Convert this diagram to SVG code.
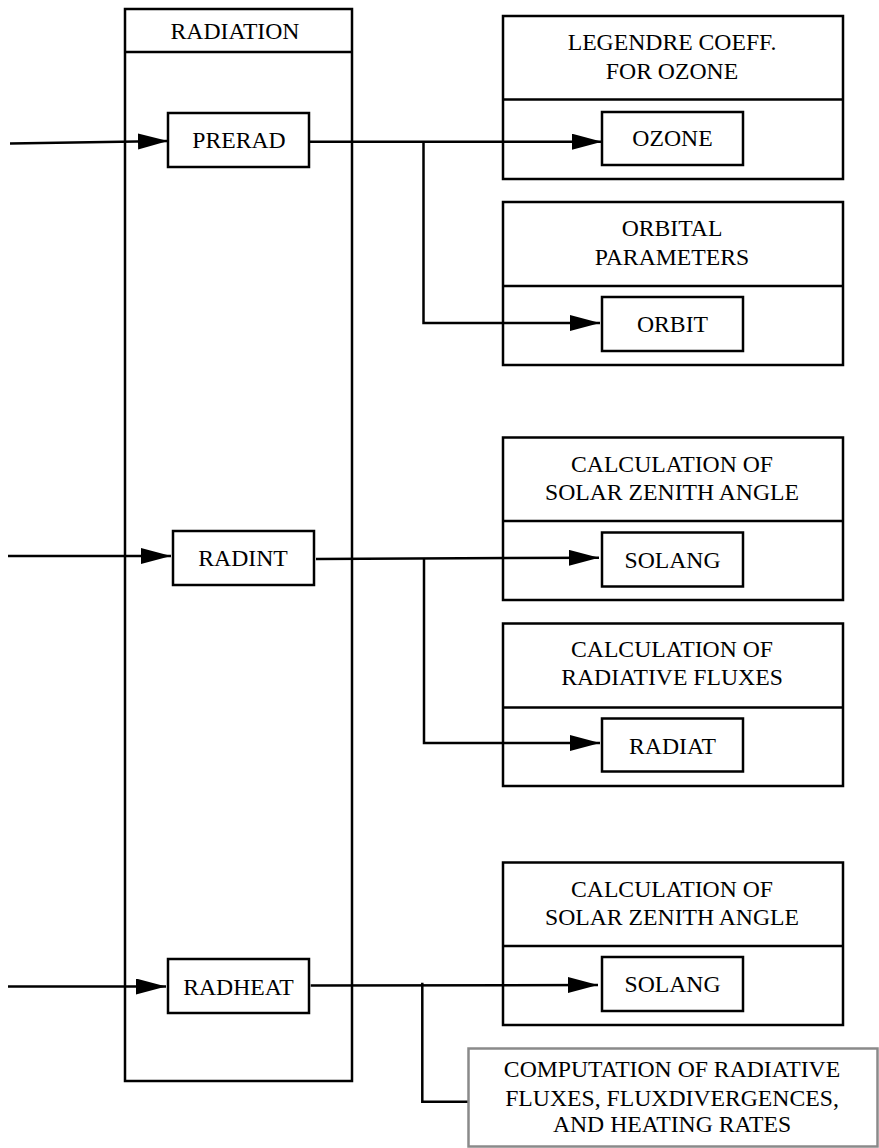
<svg xmlns="http://www.w3.org/2000/svg" width="879" height="1148" viewBox="0 0 879 1148">
  <style>
    .box { fill: #fff; stroke: #000; stroke-width: 2.5; }
    .frame { fill: none; stroke: #000; stroke-width: 2.5; }
    .grey { fill: #fff; stroke: #8a8a8a; stroke-width: 2.5; }
    .div { stroke: #000; stroke-width: 2.5; }
    .lbl { font-family: "Liberation Serif", "Times New Roman", serif; font-size: 23.7px; fill: #000; text-anchor: middle; }
    .wire { fill: none; stroke: #000; stroke-width: 2.5; }
  </style>
  <defs>
    <marker id="arrow" markerUnits="userSpaceOnUse" markerWidth="30" markerHeight="18" refX="30" refY="8" orient="auto">
      <path d="M0,0 L30,8 L0,16 Z" fill="#000"/>
    </marker>
  </defs>
  <rect width="879" height="1148" fill="#fff"/>

  <!-- Module column -->
  <g id="radiation">
    <rect class="box" x="125" y="9" width="227" height="1072"/>
    <line class="div" x1="125" y1="52" x2="352" y2="52"/>
    <text class="lbl" x="235" y="39">RADIATION</text>
  </g>

  <!-- Connectors drawn before the routine boxes -->
  <g id="connectors">
    <!-- PRERAD -->
    <line class="wire" x1="10" y1="143.5" x2="168" y2="141" marker-end="url(#arrow)"/>
    <line class="wire" x1="309" y1="141.7" x2="602" y2="141.7" marker-end="url(#arrow)"/>
    <polyline class="wire" points="423.5,141.7 423.5,323 600,323" marker-end="url(#arrow)"/>
    <!-- RADINT -->
    <line class="wire" x1="8" y1="556" x2="171" y2="556" marker-end="url(#arrow)"/>
    <line class="wire" x1="316" y1="559" x2="599" y2="557.7" marker-end="url(#arrow)"/>
    <polyline class="wire" points="424,559 424,743 600,743" marker-end="url(#arrow)"/>
    <!-- RADHEAT -->
    <line class="wire" x1="8" y1="986.5" x2="166" y2="986.5" marker-end="url(#arrow)"/>
    <line class="wire" x1="310.7" y1="985.5" x2="598" y2="985" marker-end="url(#arrow)"/>
    <polyline class="wire" points="422.3,982.7 422.3,1101.7 469,1101.7"/>
  </g>

  <g id="prerad">
    <rect class="box" x="168" y="113" width="141" height="54"/>
    <text class="lbl" x="239" y="148">PRERAD</text>
  </g>
  <g id="radint">
    <rect class="box" x="173" y="531" width="141" height="54"/>
    <text class="lbl" x="243" y="566">RADINT</text>
  </g>
  <g id="radheat">
    <rect class="box" x="168" y="959" width="141" height="54"/>
    <text class="lbl" x="238.5" y="995">RADHEAT</text>
  </g>

  <g id="legendre">
    <rect class="frame" x="503" y="16" width="340" height="163"/>
    <line class="div" x1="503" y1="99.5" x2="843" y2="99.5"/>
    <text class="lbl" x="672" y="50">LEGENDRE COEFF.</text>
    <text class="lbl" x="672" y="79">FOR OZONE</text>
  </g>
  <g id="ozone">
    <rect class="box" x="602" y="112" width="141" height="53"/>
    <text class="lbl" x="672.5" y="146">OZONE</text>
  </g>

  <g id="orbital">
    <rect class="frame" x="503" y="202" width="340" height="163"/>
    <line class="div" x1="503" y1="286" x2="843" y2="286"/>
    <text class="lbl" x="672" y="236">ORBITAL</text>
    <text class="lbl" x="672" y="265">PARAMETERS</text>
  </g>
  <g id="orbit">
    <rect class="box" x="602" y="297" width="141" height="54"/>
    <text class="lbl" x="672.5" y="332">ORBIT</text>
  </g>

  <g id="zenith1">
    <rect class="frame" x="503" y="437.5" width="340" height="162.5"/>
    <line class="div" x1="503" y1="521" x2="843" y2="521"/>
    <text class="lbl" x="672" y="472">CALCULATION OF</text>
    <text class="lbl" x="672" y="500">SOLAR ZENITH ANGLE</text>
  </g>
  <g id="solang1">
    <rect class="box" x="602" y="532.5" width="141" height="54"/>
    <text class="lbl" x="672.5" y="568">SOLANG</text>
  </g>

  <g id="fluxes">
    <rect class="frame" x="503" y="623.5" width="340" height="162.5"/>
    <line class="div" x1="503" y1="707.5" x2="843" y2="707.5"/>
    <text class="lbl" x="672" y="657">CALCULATION OF</text>
    <text class="lbl" x="672" y="685">RADIATIVE FLUXES</text>
  </g>
  <g id="radiat">
    <rect class="box" x="602" y="718.5" width="141" height="53"/>
    <text class="lbl" x="672.5" y="754">RADIAT</text>
  </g>

  <g id="zenith2">
    <rect class="frame" x="503" y="862.5" width="340" height="162.5"/>
    <line class="div" x1="503" y1="946" x2="843" y2="946"/>
    <text class="lbl" x="672" y="897">CALCULATION OF</text>
    <text class="lbl" x="672" y="925">SOLAR ZENITH ANGLE</text>
  </g>
  <g id="solang2">
    <rect class="box" x="602" y="957" width="141" height="54"/>
    <text class="lbl" x="672.5" y="992">SOLANG</text>
  </g>

  <g id="computation">
    <rect class="grey" x="468.5" y="1048.5" width="409" height="98"/>
    <text class="lbl" x="672" y="1077">COMPUTATION OF RADIATIVE</text>
    <text class="lbl" x="672" y="1106">FLUXES, FLUXDIVERGENCES,</text>
    <text class="lbl" x="672" y="1132">AND HEATING RATES</text>
  </g>
</svg>
